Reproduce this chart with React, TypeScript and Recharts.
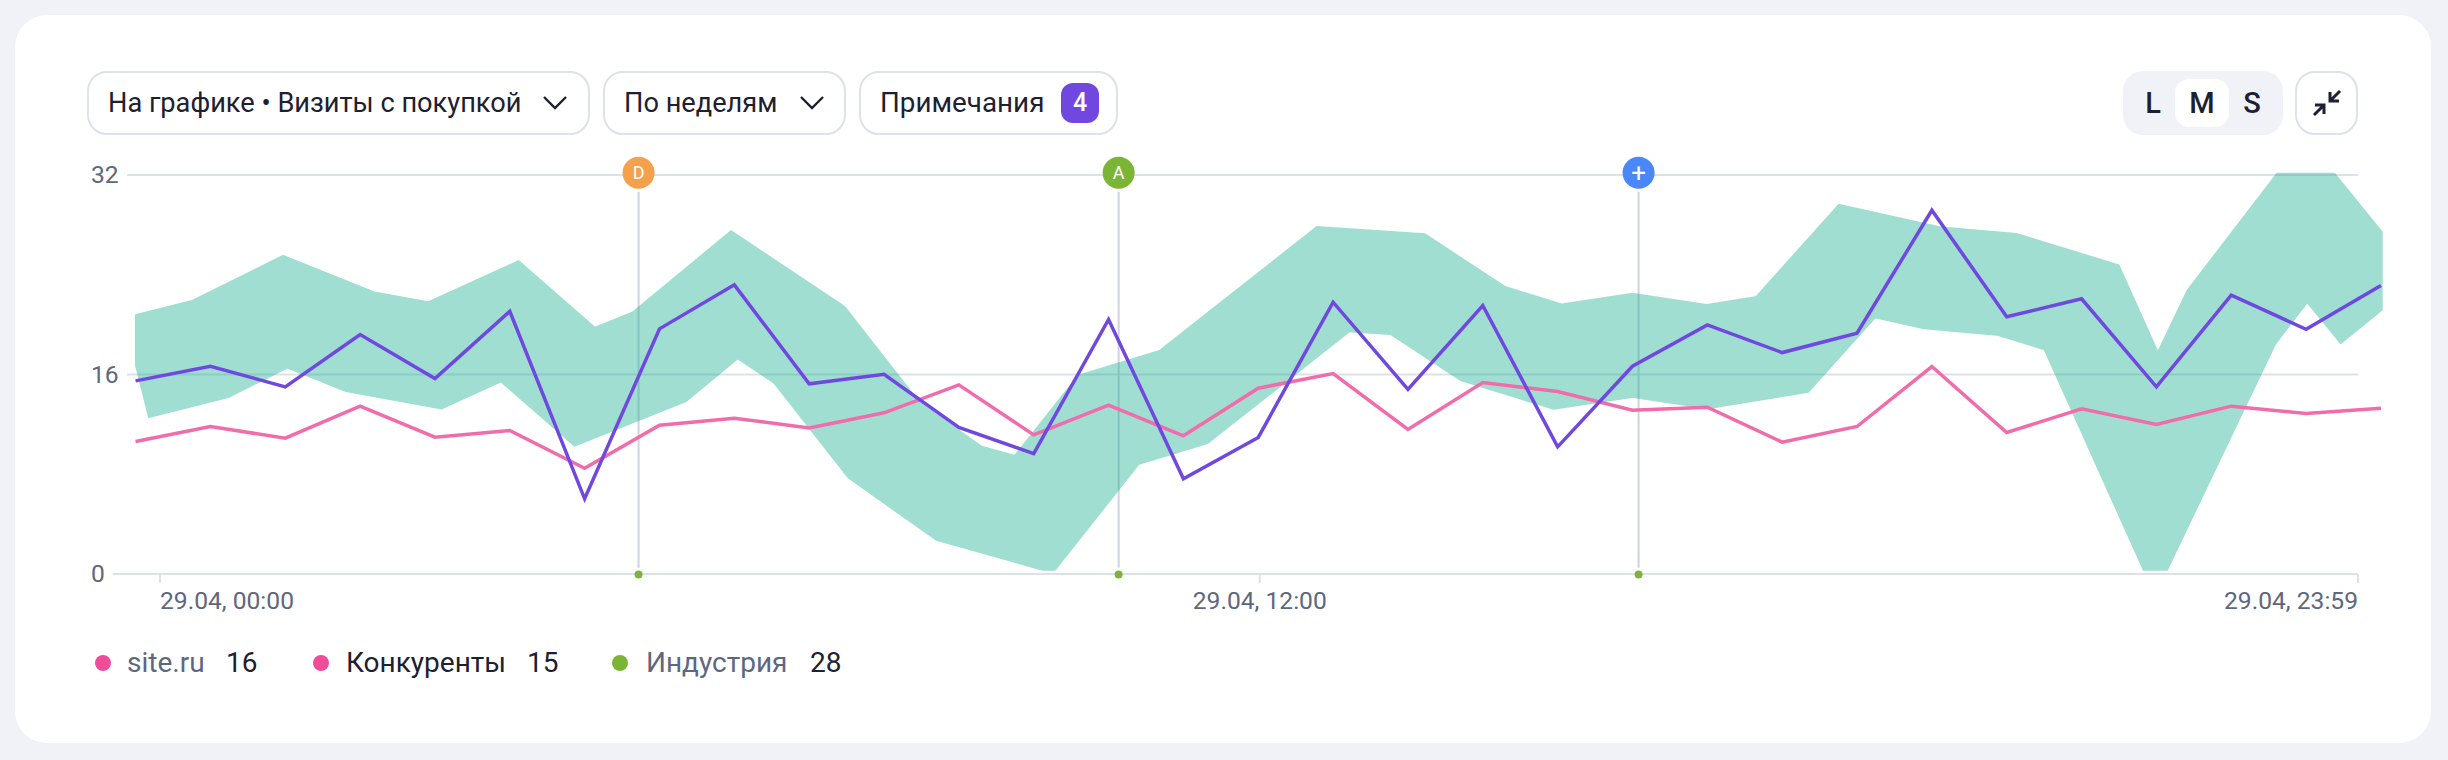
import React from 'react';
import {
  ComposedChart,
  Line,
  XAxis,
  YAxis,
  ReferenceLine,
  ReferenceDot,
} from 'recharts';

// sample times, minutes from 29.04 00:00
const times = [
  -16, 33, 82, 131, 180, 229, 278, 327, 376, 425, 474, 523, 572, 621, 670, 719,
  768, 817, 866, 915, 964, 1013, 1062, 1111, 1160, 1209, 1258, 1307, 1356, 1405, 1454,
];
const siteValues = [
  15.49, 16.66, 15.01, 19.21, 15.68, 21.07, 6.03, 19.66, 23.19, 15.25, 16.02, 11.75, 9.66, 20.41, 7.63, 10.95,
  21.8, 14.8, 21.53, 10.2, 16.66, 19.98, 17.76, 19.31, 29.17, 20.63, 22.07, 15.01, 22.36, 19.63, 23.14,
];
const competitorValues = [
  10.63, 11.83, 10.89, 13.46, 10.97, 11.51, 8.48, 11.93, 12.49, 11.72, 12.93, 15.17, 11.16, 13.54, 11.08, 14.9,
  16.08, 11.59, 15.36, 14.63, 13.14, 13.38, 10.57, 11.83, 16.64, 11.35, 13.25, 11.99, 13.46, 12.87, 13.3,
];
const industryValues = [
  16.54, 18.05, 21.03, 18.63, 17.53, 20.27, 15.02, 17.43, 22.4, 18.39, 10.73, 6.48, 4.79, 12.37, 14.19, 18.91,
  23.64, 23.24, 19.29, 17.43, 18.33, 17.43, 18.41, 25.1, 23.76, 23.23, 21.39, 8.04, 20.59, 28.41, 21.03,
];

const yTicks = [0, 16, 32];
const xTicks = [0, 720, 1439];
const xTickLabels = ['29.04, 00:00', '29.04, 12:00', '29.04, 23:59'];
const xTickAnchors = ['start', 'middle', 'end'];

const noteTimes = [313.3, 627.6, 968];
const noteLabels = ['D', 'A', '+'];
const noteColors = ['#f4a04c', '#7cb536', '#4a87f8'];

const chartData = times.map((time, i) => ({
  time,
  site: siteValues[i],
  competitors: competitorValues[i],
  industry: industryValues[i],
}));

const FONT = 'Roboto, "Noto Sans", sans-serif';
const GRID = '#dde1ea';

const btn: React.CSSProperties = {
  position: 'absolute',
  top: 71,
  height: 64,
  boxSizing: 'border-box',
  border: `2px solid ${GRID}`,
  borderRadius: 20,
  background: '#fff',
};

const label = (left: number, top: number, size: number, color: string, spacing = 0): React.CSSProperties => ({
  position: 'absolute',
  left,
  top,
  fontSize: size,
  lineHeight: '32px',
  color,
  letterSpacing: spacing,
  whiteSpace: 'nowrap',
});

const segLabel = (left: number): React.CSSProperties => ({
  position: 'absolute',
  left,
  top: 87,
  width: 40,
  textAlign: 'center',
  fontSize: 29,
  fontWeight: 500,
  lineHeight: '32px',
  color: '#1d2030',
});

const Chevron = ({ x }: { x: number }) => (
  <svg style={{ position: 'absolute', left: x - 13, top: 94 }} width={26} height={18}>
    <path d="M2 3 L13 14 L24 3" fill="none" stroke="#1d2030" strokeWidth={2.4} />
  </svg>
);

const XTick = ({ x, y, index }: any) => (
  <text x={x} y={y + 24} textAnchor={xTickAnchors[index]} fontSize={24.6} fill="#5d6780" fontFamily={FONT}>
    {xTickLabels[index]}
  </text>
);

const YTick = ({ y, payload }: any) => (
  <text x={91} y={y + 8} fontSize={24.6} fill="#5d6780" fontFamily={FONT}>
    {payload.value}
  </text>
);

const App = () => (
  <div
    style={{
      position: 'absolute',
      left: 0,
      top: 0,
      width: 2448,
      height: 760,
      background: '#f0f2f7',
      fontFamily: FONT,
      overflow: 'hidden',
    }}
  >
    {/* the industry range is one very wide stroke, cut off at the plot edges */}
    <style>{'.band-line { clip-path: url(#bandClip); }'}</style>
    <div style={{ position: 'absolute', left: 15, top: 15, width: 2416, height: 728, background: '#fff', borderRadius: 32 }} />

    <div style={{ ...btn, left: 87, width: 503 }} />
    <div style={label(108, 87, 27.2, '#1d2030')}>На графике • Визиты с покупкой</div>
    <Chevron x={555} />
    <div style={{ ...btn, left: 603, width: 243 }} />
    <div style={label(624, 87, 27.2, '#1d2030')}>По неделям</div>
    <Chevron x={812} />
    <div style={{ ...btn, left: 859, width: 259 }} />
    <div style={label(880, 87, 27.8, '#1d2030')}>Примечания</div>
    <div
      style={{
        position: 'absolute',
        left: 1061,
        top: 83,
        width: 38,
        height: 40,
        borderRadius: 12,
        background: '#7048e0',
        color: '#fff',
        fontSize: 25,
        fontWeight: 500,
        lineHeight: '40px',
        textAlign: 'center',
      }}
    >
      4
    </div>

    <div style={{ position: 'absolute', left: 2123, top: 71, width: 160, height: 64, borderRadius: 20, background: '#f0f2f7' }} />
    <div style={{ position: 'absolute', left: 2175, top: 79, width: 54, height: 48, borderRadius: 14, background: '#fff' }} />
    <div style={segLabel(2133)}>L</div>
    <div style={segLabel(2182)}>M</div>
    <div style={segLabel(2232)}>S</div>
    <div style={{ ...btn, left: 2295, width: 63 }} />
    <svg style={{ position: 'absolute', left: 2310, top: 85 }} width={34} height={34}>
      <path d="M30 6 L20 16 M20 7 V16 H29 M4 30 L14 20 M5 20 H14 V29" fill="none" stroke="#1d2030" strokeWidth={3} />
    </svg>

    <ComposedChart
      width={2448}
      height={760}
      data={chartData}
      margin={{ top: 175, right: 47.2, bottom: 146, left: 72.65 }}
      style={{ position: 'absolute', left: 0, top: 0 }}
    >
      <defs>
        <clipPath id="bandClip">
          <rect x={135} y={172.7} width={2247.7} height={398} />
        </clipPath>
      </defs>
      <XAxis
        dataKey="time"
        type="number"
        domain={[-31, 1467]}
        ticks={xTicks}
        interval={0}
        height={40}
        axisLine={false}
        tickSize={9}
        tickLine={{ stroke: GRID, strokeWidth: 2 }}
        tick={<XTick />}
      />
      <YAxis domain={[0, 32]} ticks={yTicks} width={40} axisLine={false} tickLine={false} interval={0} tick={<YTick />} />

      <ReferenceLine segment={[{ x: -21.6, y: 32 }, { x: 1439, y: 32 }]} stroke={GRID} strokeWidth={2} />
      <ReferenceLine segment={[{ x: -21.6, y: 16 }, { x: 1439, y: 16 }]} stroke={GRID} strokeWidth={2} />
      <ReferenceLine segment={[{ x: -31, y: 0 }, { x: 1439, y: 0 }]} stroke={GRID} strokeWidth={2} />
      {noteTimes.map((t) => (
        <ReferenceLine key={t} segment={[{ x: t, y: 0.5 }, { x: t, y: 30.66 }]} stroke="#cfd3e0" strokeWidth={2} />
      ))}

      <Line
        className="band-line"
        dataKey="industry"
        stroke="#1db091"
        strokeOpacity={0.42}
        strokeWidth={104}
        strokeLinejoin="miter"
        strokeMiterlimit={10}
        strokeLinecap="butt"
        dot={false}
        activeDot={false}
        isAnimationActive={false}
      />
      <Line
        dataKey="competitors"
        stroke="#f06cab"
        strokeWidth={3.5}
        strokeLinejoin="miter"
        dot={false}
        isAnimationActive={false}
      />
      <Line
        dataKey="site"
        stroke="#7048e0"
        strokeWidth={3.5}
        strokeLinejoin="miter"
        dot={false}
        isAnimationActive={false}
      />

      {noteTimes.map((t, i) => (
        <ReferenceDot
          key={t}
          x={t}
          y={32.18}
          r={16}
          fill={noteColors[i]}
          stroke="none"
          ifOverflow="visible"
          label={{ value: noteLabels[i], position: 'center', fill: '#fff', fontSize: i === 2 ? 26 : 18, fontFamily: FONT }}
        />
      ))}
      {noteTimes.map((t) => (
        <ReferenceDot key={t} x={t} y={-0.05} r={4} fill="#7cb536" stroke="none" ifOverflow="visible" />
      ))}
    </ComposedChart>

    <div style={{ position: 'absolute', left: 95, top: 655, width: 16, height: 16, borderRadius: 8, background: '#ef4d99' }} />
    <div style={label(127, 647, 28, '#5d6780')}>site.ru</div>
    <div style={label(226, 647, 28, '#1d2030')}>16</div>
    <div style={{ position: 'absolute', left: 313, top: 655, width: 16, height: 16, borderRadius: 8, background: '#ef4d99' }} />
    <div style={label(346, 647, 28, '#1d2030')}>Конкуренты</div>
    <div style={label(527, 647, 28, '#1d2030')}>15</div>
    <div style={{ position: 'absolute', left: 612, top: 655, width: 16, height: 16, borderRadius: 8, background: '#7cb536' }} />
    <div style={label(646, 647, 28, '#5d6780')}>Индустрия</div>
    <div style={label(810, 647, 28, '#1d2030')}>28</div>
  </div>
);

export default App;
